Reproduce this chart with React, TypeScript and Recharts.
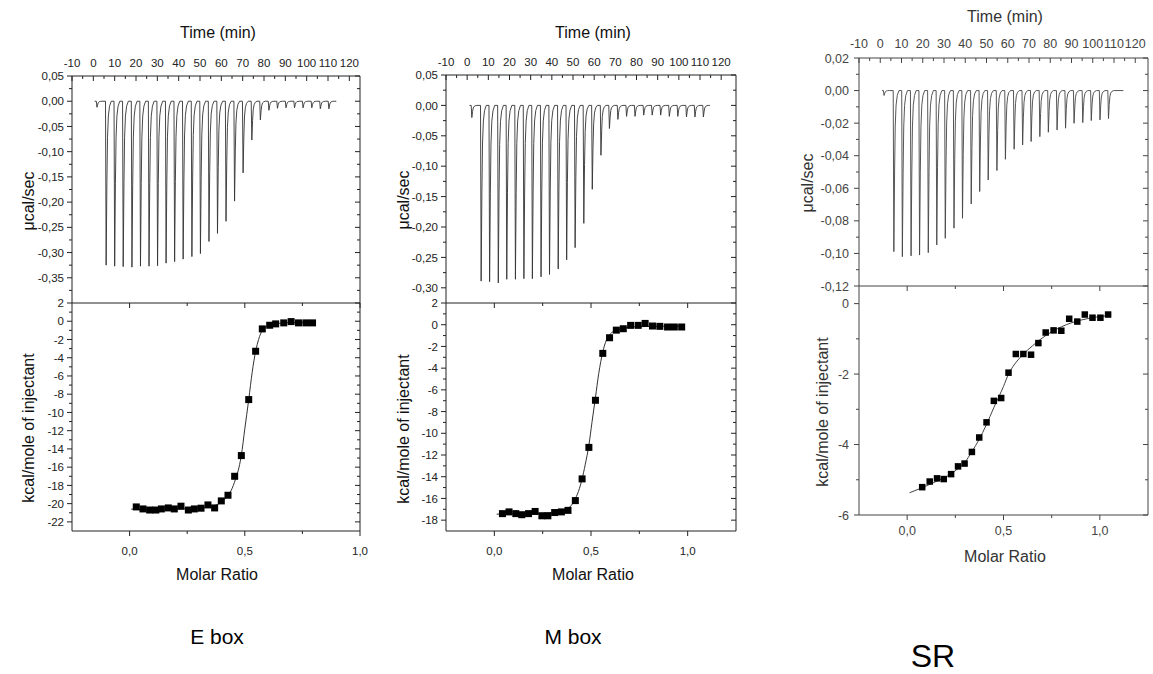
import React from 'react';
import { ComposedChart, Line, Scatter, XAxis, YAxis } from 'recharts';

const FONT = '"Liberation Sans", Arial, Helvetica, sans-serif';

// ---------- shared tick labels ----------
const TIME_MAJOR = [-10, 0, 10, 20, 30, 40, 50, 60, 70, 80, 90, 100, 110, 120];
const TIME_MINOR = [-5, 5, 15, 25, 35, 45, 55, 65, 75, 85, 95, 105, 115];
const RATIO_MAJOR = [0, 0.5, 1.0];
const RATIO_MINOR_A = [0.25, 0.75];
const RATIO_MINOR_B = [0.25, 0.75];

// shape of one injection peak (minutes after injection, fraction of peak depth)
const SPIKE_SHAPE: [number, number][] = [[0, 0], [0.3, 1], [0.65, 0.5], [0.95, 0.22], [1.35, 0.09], [1.9, 0.03], [2.7, 0]];

// ---------- E box ----------
const E_INJ_TIMES = [1.4, 5.7, 9.7, 13.7, 17.8, 21.8, 25.8, 29.8, 33.8, 37.8, 41.8, 45.9, 49.9, 53.9, 57.9, 61.9, 65.9, 69.9, 74.0, 78.0, 82.0, 86.0, 90.0, 94.0, 98.0, 102.1, 106.1, 110.1];
const E_INJ_PEAKS = [-0.012, -0.325, -0.327, -0.328, -0.329, -0.327, -0.327, -0.326, -0.321, -0.318, -0.313, -0.308, -0.302, -0.278, -0.262, -0.238, -0.198, -0.142, -0.077, -0.037, -0.018, -0.014, -0.013, -0.013, -0.013, -0.013, -0.015, -0.015];
const E_TRACE_START = 0.6;
const E_TRACE_END = 113.9;
const E_RATIO = [0.029, 0.058, 0.087, 0.114, 0.138, 0.168, 0.194, 0.223, 0.255, 0.281, 0.310, 0.340, 0.369, 0.398, 0.427, 0.456, 0.485, 0.517, 0.547, 0.576, 0.608, 0.634, 0.669, 0.701, 0.733, 0.765, 0.794];
const E_HEAT = [-20.36, -20.58, -20.7, -20.7, -20.58, -20.47, -20.58, -20.28, -20.7, -20.58, -20.5, -20.14, -20.47, -19.7, -19.08, -17.0, -14.73, -8.59, -3.29, -0.84, -0.44, -0.29, -0.18, -0.04, -0.18, -0.18, -0.18];
const E_FIT_RATIO = [0.007, 0.1, 0.2, 0.3, 0.37, 0.41, 0.44, 0.46, 0.475, 0.485, 0.5, 0.517, 0.532, 0.547, 0.56, 0.576, 0.6, 0.64, 0.7, 0.794];
const E_FIT_HEAT = [-20.6, -20.65, -20.6, -20.5, -20.2, -19.6, -18.6, -17.3, -16.0, -14.7, -11.8, -8.6, -5.6, -3.3, -2.0, -1.0, -0.5, -0.25, -0.15, -0.12];
const E_RAW_MAJOR = [0.05, 0, -0.05, -0.1, -0.15, -0.2, -0.25, -0.3, -0.35];
const E_RAW_MINOR = [0.025, -0.025, -0.075, -0.125, -0.175, -0.225, -0.275, -0.325, -0.375];
const E_HEAT_MAJOR = [2, 0, -2, -4, -6, -8, -10, -12, -14, -16, -18, -20, -22];
const E_HEAT_MINOR = [1, -1, -3, -5, -7, -9, -11, -13, -15, -17, -19, -21];

// ---------- M box ----------
const M_INJ_TIMES = [1.9, 6.3, 10.3, 14.4, 18.4, 22.5, 26.5, 30.5, 34.6, 38.6, 42.7, 46.7, 50.7, 54.8, 58.8, 62.9, 66.9, 70.9, 75.0, 79.0, 83.1, 87.1, 91.1, 95.2, 99.2, 103.3, 107.3, 111.3];
const M_INJ_PEAKS = [-0.02, -0.289, -0.290, -0.292, -0.286, -0.286, -0.285, -0.285, -0.282, -0.278, -0.269, -0.254, -0.234, -0.194, -0.138, -0.082, -0.038, -0.023, -0.018, -0.018, -0.016, -0.016, -0.016, -0.018, -0.018, -0.019, -0.019, -0.019];
const M_TRACE_START = 1.1;
const M_TRACE_END = 114.7;
const M_RATIO = [0.042, 0.076, 0.111, 0.142, 0.177, 0.211, 0.246, 0.277, 0.312, 0.347, 0.381, 0.419, 0.454, 0.489, 0.523, 0.561, 0.596, 0.631, 0.667, 0.705, 0.744, 0.780, 0.818, 0.856, 0.896, 0.931, 0.969];
const M_HEAT = [-17.4, -17.24, -17.4, -17.5, -17.4, -17.2, -17.6, -17.6, -17.3, -17.24, -17.1, -16.2, -14.2, -11.3, -6.96, -2.64, -1.2, -0.5, -0.37, -0.06, -0.06, 0.12, -0.12, -0.15, -0.21, -0.21, -0.21];
const M_FIT_RATIO = [0.012, 0.1, 0.2, 0.3, 0.36, 0.39, 0.42, 0.44, 0.454, 0.47, 0.489, 0.505, 0.523, 0.54, 0.561, 0.58, 0.6, 0.63, 0.67, 0.75, 0.969];
const M_FIT_HEAT = [-17.45, -17.4, -17.38, -17.3, -17.1, -16.8, -16.0, -15.1, -14.2, -12.9, -11.1, -9.0, -6.7, -4.5, -2.5, -1.4, -0.85, -0.5, -0.3, -0.18, -0.12];
const M_RAW_MAJOR = [0.05, 0, -0.05, -0.1, -0.15, -0.2, -0.25, -0.3];
const M_RAW_MINOR = [0.025, -0.025, -0.075, -0.125, -0.175, -0.225, -0.275];
const M_HEAT_MAJOR = [2, 0, -2, -4, -6, -8, -10, -12, -14, -16, -18];
const M_HEAT_MINOR = [1, -1, -3, -5, -7, -9, -11, -13, -15, -17];

// ---------- SR ----------
const S_INJ_TIMES = [1.5, 6.1, 10.1, 14.2, 18.2, 22.3, 26.3, 30.3, 34.4, 38.4, 42.5, 46.5, 50.5, 54.6, 58.6, 62.7, 66.7, 70.7, 74.8, 78.8, 82.9, 86.9, 90.9, 95.0, 99.0, 103.1, 107.1];
const S_INJ_PEAKS = [-0.003, -0.0989, -0.102, -0.1015, -0.101, -0.0995, -0.0948, -0.0907, -0.0845, -0.0784, -0.0696, -0.062, -0.0549, -0.0491, -0.0422, -0.036, -0.0334, -0.0313, -0.0283, -0.0256, -0.0242, -0.0231, -0.0201, -0.0197, -0.0184, -0.018, -0.0172];
const S_TRACE_START = 0.8;
const S_TRACE_END = 114.4;
const S_RATIO = [0.078, 0.117, 0.155, 0.19, 0.228, 0.264, 0.298, 0.336, 0.374, 0.412, 0.45, 0.488, 0.526, 0.564, 0.603, 0.643, 0.681, 0.719, 0.76, 0.80, 0.841, 0.883, 0.922, 0.962, 1.003, 1.043];
const S_HEAT = [-5.21, -5.05, -4.96, -4.98, -4.84, -4.62, -4.54, -4.21, -3.80, -3.37, -2.76, -2.68, -1.96, -1.43, -1.43, -1.45, -1.12, -0.82, -0.76, -0.77, -0.43, -0.51, -0.31, -0.40, -0.40, -0.31];
const S_FIT_RATIO = [0.012, 0.08, 0.15, 0.22, 0.26, 0.3, 0.336, 0.374, 0.41, 0.45, 0.5, 0.526, 0.55, 0.6, 0.65, 0.7, 0.75, 0.8, 0.85, 0.9, 0.95, 1.043];
const S_FIT_HEAT = [-5.37, -5.22, -5.05, -4.86, -4.7, -4.5, -4.2, -3.85, -3.45, -2.95, -2.35, -2.0, -1.78, -1.45, -1.2, -0.98, -0.8, -0.66, -0.55, -0.47, -0.41, -0.34];
const S_RAW_MAJOR = [0.02, 0, -0.02, -0.04, -0.06, -0.08, -0.1, -0.12];
const S_RAW_MINOR = [0.01, -0.01, -0.03, -0.05, -0.07, -0.09, -0.11];
const S_HEAT_MAJOR = [0, -2, -4, -6];
const S_HEAT_MINOR = [-1, -3, -5];

// ---------- helpers ----------
function buildTrace(start: number, end: number, times: number[], peaks: number[]) {
  const pts: { t: number; v: number }[] = [{ t: start, v: 0 }];
  times.forEach((t0, i) => {
    SPIKE_SHAPE.forEach(([dt, f]) => pts.push({ t: t0 + dt, v: peaks[i] * f }));
  });
  pts.push({ t: end, v: 0 });
  return pts;
}
function pairs(xs: number[], ys: number[]) {
  return xs.map((x, i) => ({ x, y: ys[i] }));
}
const comma = (d: number) => (v: number) => v.toFixed(d).replace('.', ',');
const intFmt = (v: number) => String(Math.round(v));

type Side = 'left' | 'right' | 'top' | 'bottom';
interface TickOpts {
  side: Side; major: number[]; fmt: (v: number) => string; inward: boolean;
  majorLen: number; minorLen: number; gap: number; fontSize: number; color: string; labels: boolean;
}
function makeTick(o: TickOpts) {
  return (props: any) => {
    const { x, y, payload } = props;
    const v = Number(payload.value);
    const isMajor = o.major.some((m) => Math.abs(m - v) < 1e-9);
    const len = isMajor ? o.majorLen : o.minorLen;
    const s = o.inward ? -1 : 1;
    let x2 = x, y2 = y, tx = x, ty = y;
    let anchor: 'start' | 'middle' | 'end' = 'middle';
    const outLen = o.inward ? 0 : o.majorLen;
    if (o.side === 'left') { x2 = x - s * len; tx = x - outLen - o.gap; anchor = 'end'; }
    if (o.side === 'right') { x2 = x + s * len; tx = x + outLen + o.gap; anchor = 'start'; }
    if (o.side === 'top') { y2 = y - s * len; ty = y - outLen - o.gap; }
    if (o.side === 'bottom') { y2 = y + s * len; ty = y + outLen + o.gap; }
    return (
      <g>
        <line x1={x} y1={y} x2={x2} y2={y2} stroke={o.color} strokeWidth={1} />
        {o.labels && isMajor ? (
          <text x={tx} y={ty} dy="0.36em" textAnchor={anchor} fontSize={o.fontSize} fill={o.color} fontFamily={FONT}>
            {o.fmt(v)}
          </text>
        ) : null}
      </g>
    );
  };
}

const Square = (size: number, color: string) => (p: any) =>
  p.cx == null ? <g /> : <rect x={p.cx - size / 2} y={p.cy - size / 2} width={size} height={size} fill={color} />;

interface PanelProps {
  plotLeft: number; plotRight: number; topY: number; midY: number; botY: number;
  timeDomain: [number, number]; rawDomain: [number, number]; heatDomain: [number, number]; ratioDomain: [number, number];
  rawMajor: number[]; rawMinor: number[]; rawFmt: (v: number) => string;
  heatMajor: number[]; heatMinor: number[];
  ratioMinor: number[];
  trace: { t: number; v: number }[];
  points: { x: number; y: number }[];
  fit: { x: number; y: number }[];
  color: string; traceColor: string; tickFont: number;
  leftGap: number; topGap: number; bottomGap: number; square: number;
}

function Panel(p: PanelProps) {
  const LW = 70, RM = 10;
  const PW = p.plotRight - p.plotLeft;
  const PHt = p.midY - p.topY;
  const PHb = p.botY - p.midY;
  const W = LW + PW + RM;
  const TH = 40;
  const TB = 12; // bottom margin of the upper chart (room for its lowest label)
  const topH = TH + PHt + TB;
  const BT = 12; // top room of the lower chart (room for its highest label)
  const BH = 40;
  const botH = BT + PHb + BH;
  const c = p.color;
  const common = { majorLen: 5, minorLen: 3, fontSize: p.tickFont, color: c };
  const rawTicks = [...p.rawMajor, ...p.rawMinor].sort((a, b) => b - a);
  const heatTicks = [...p.heatMajor, ...p.heatMinor].sort((a, b) => b - a);
  const timeTicks = [...TIME_MAJOR, ...TIME_MINOR].sort((a, b) => a - b);
  const ratioTicks = [...RATIO_MAJOR, ...p.ratioMinor].filter((v) => v <= p.ratioDomain[1]).sort((a, b) => a - b);
  return (
    <>
      <div style={{ position: 'absolute', left: p.plotLeft - LW, top: p.topY - TH, width: W, height: topH }}>
        <ComposedChart width={W} height={topH} margin={{ top: 0, left: 0, right: RM - 1, bottom: TB }}>
          <XAxis xAxisId="t" orientation="top" type="number" dataKey="t" domain={p.timeDomain} allowDataOverflow
            ticks={timeTicks} interval={0} height={TH} tickSize={0} tickMargin={0} tickLine={false}
            axisLine={{ stroke: c }}
            tick={makeTick({ ...common, side: 'top', major: TIME_MAJOR, fmt: intFmt, inward: true, gap: p.topGap, labels: true })} />
          <YAxis yAxisId="l" type="number" dataKey="v" domain={p.rawDomain} allowDataOverflow ticks={rawTicks} interval={0}
            width={LW} tickSize={0} tickMargin={0} tickLine={false} axisLine={{ stroke: c }}
            tick={makeTick({ ...common, side: 'left', major: p.rawMajor, fmt: p.rawFmt, inward: false, gap: p.leftGap, labels: true })} />
          <YAxis yAxisId="r" orientation="right" type="number" domain={p.rawDomain} allowDataOverflow ticks={rawTicks} interval={0}
            width={1} tickSize={0} tickMargin={0} tickLine={false} axisLine={{ stroke: c }}
            tick={makeTick({ ...common, side: 'right', major: p.rawMajor, fmt: p.rawFmt, inward: true, gap: 2, labels: false })} />
          <Line data={p.trace} xAxisId="t" yAxisId="l" dataKey="v" type="linear" dot={false} stroke={p.traceColor}
            strokeWidth={0.9} isAnimationActive={false} />
        </ComposedChart>
      </div>
      <div style={{ position: 'absolute', left: p.plotLeft - LW, top: p.midY - BT, width: W, height: botH }}>
        <ComposedChart width={W} height={botH} margin={{ top: BT - 1, left: 0, right: RM - 1, bottom: 0 }}>
          <XAxis xAxisId="xt" orientation="top" type="number" dataKey="x" domain={p.ratioDomain} allowDataOverflow
            ticks={ratioTicks} interval={0} height={1} tickSize={0} tickMargin={0} tickLine={false}
            axisLine={{ stroke: c }}
            tick={makeTick({ ...common, side: 'top', major: RATIO_MAJOR, fmt: comma(1), inward: true, gap: 2, labels: false })} />
          <XAxis xAxisId="xb" orientation="bottom" type="number" dataKey="x" domain={p.ratioDomain} allowDataOverflow
            ticks={ratioTicks} interval={0} height={BH} tickSize={0} tickMargin={0} tickLine={false}
            axisLine={{ stroke: c }}
            tick={makeTick({ ...common, side: 'bottom', major: RATIO_MAJOR, fmt: comma(1), inward: p.bottomGap < 10, gap: p.bottomGap, labels: true })} />
          <YAxis yAxisId="l" type="number" dataKey="y" domain={p.heatDomain} allowDataOverflow ticks={heatTicks} interval={0}
            width={LW} tickSize={0} tickMargin={0} tickLine={false} axisLine={{ stroke: c }}
            tick={makeTick({ ...common, side: 'left', major: p.heatMajor, fmt: intFmt, inward: false, gap: p.leftGap, labels: true })} />
          <YAxis yAxisId="r" orientation="right" type="number" domain={p.heatDomain} allowDataOverflow ticks={heatTicks} interval={0}
            width={1} tickSize={0} tickMargin={0} tickLine={false} axisLine={{ stroke: c }}
            tick={makeTick({ ...common, side: 'right', major: p.heatMajor, fmt: intFmt, inward: true, gap: 2, labels: false })} />
          <Line data={p.fit} xAxisId="xb" yAxisId="l" dataKey="y" type="monotone" dot={false} stroke={p.traceColor}
            strokeWidth={1} isAnimationActive={false} />
          <Scatter data={p.points} xAxisId="xb" yAxisId="l" dataKey="y" shape={Square(p.square, '#000')} isAnimationActive={false} />
        </ComposedChart>
      </div>
    </>
  );
}

const E_TRACE = buildTrace(E_TRACE_START, E_TRACE_END, E_INJ_TIMES, E_INJ_PEAKS);
const M_TRACE = buildTrace(M_TRACE_START, M_TRACE_END, M_INJ_TIMES, M_INJ_PEAKS);
const S_TRACE = buildTrace(S_TRACE_START, S_TRACE_END, S_INJ_TIMES, S_INJ_PEAKS);

export default function App() {
  const t1 = '#111';
  const t3 = '#333';
  return (
    <div style={{ position: 'absolute', left: 0, top: 0, width: 1153, height: 674, background: '#fff', fontFamily: FONT }}>
      <Panel plotLeft={72} plotRight={360} topY={76} midY={303} botY={531}
        timeDomain={[-10, 125]} rawDomain={[-0.4, 0.05]} heatDomain={[-23, 2]} ratioDomain={[-0.25, 1.0]}
        rawMajor={E_RAW_MAJOR} rawMinor={E_RAW_MINOR} rawFmt={comma(2)}
        heatMajor={E_HEAT_MAJOR} heatMinor={E_HEAT_MINOR} ratioMinor={RATIO_MINOR_A}
        trace={E_TRACE} points={pairs(E_RATIO, E_HEAT)} fit={pairs(E_FIT_RATIO, E_FIT_HEAT)}
        color="#222" traceColor="#333" tickFont={11.5} leftGap={3} topGap={13} bottomGap={15} square={7} />
      <Panel plotLeft={446} plotRight={736} topY={75} midY={303} botY={531}
        timeDomain={[-10, 127]} rawDomain={[-0.325, 0.05]} heatDomain={[-19, 2]} ratioDomain={[-0.25, 1.25]}
        rawMajor={M_RAW_MAJOR} rawMinor={M_RAW_MINOR} rawFmt={comma(2)}
        heatMajor={M_HEAT_MAJOR} heatMinor={M_HEAT_MINOR} ratioMinor={RATIO_MINOR_B}
        trace={M_TRACE} points={pairs(M_RATIO, M_HEAT)} fit={pairs(M_FIT_RATIO, M_FIT_HEAT)}
        color="#222" traceColor="#333" tickFont={11.5} leftGap={3} topGap={13} bottomGap={15} square={7} />
      <Panel plotLeft={859} plotRight={1148} topY={58} midY={286} botY={515}
        timeDomain={[-10, 126]} rawDomain={[-0.12, 0.02]} heatDomain={[-6, 0.5]} ratioDomain={[-0.25, 1.25]}
        rawMajor={S_RAW_MAJOR} rawMinor={S_RAW_MINOR} rawFmt={comma(2)}
        heatMajor={S_HEAT_MAJOR} heatMinor={S_HEAT_MINOR} ratioMinor={RATIO_MINOR_B}
        trace={S_TRACE} points={pairs(S_RATIO, S_HEAT)} fit={pairs(S_FIT_RATIO, S_FIT_HEAT)}
        color="#444" traceColor="#444" tickFont={12.5} leftGap={5} topGap={15} bottomGap={10} square={6.5} />
      <svg width={1153} height={674} style={{ position: 'absolute', left: 0, top: 0, pointerEvents: 'none' }} fontFamily={FONT}>
        <g fill={t1} fontSize={16}>
          <text x={218} y={32} textAnchor="middle" dy="0.36em">Time (min)</text>
          <text transform="translate(28,201) rotate(-90)" textAnchor="middle" dy="0.36em">μcal/sec</text>
          <text transform="translate(28,428) rotate(-90)" textAnchor="middle" dy="0.36em">kcal/mole of injectant</text>
          <text x={217} y={574} textAnchor="middle" dy="0.36em">Molar Ratio</text>
          <text x={593} y={32} textAnchor="middle" dy="0.36em">Time (min)</text>
          <text transform="translate(403,200) rotate(-90)" textAnchor="middle" dy="0.36em">μcal/sec</text>
          <text transform="translate(403,429) rotate(-90)" textAnchor="middle" dy="0.36em">kcal/mole of injectant</text>
          <text x={593} y={574} textAnchor="middle" dy="0.36em">Molar Ratio</text>
        </g>
        <g fill={t3} fontSize={16}>
          <text x={1005} y={16} textAnchor="middle" dy="0.36em">Time (min)</text>
          <text transform="translate(807,183) rotate(-90)" textAnchor="middle" dy="0.36em">μcal/sec</text>
          <text transform="translate(822,412) rotate(-90)" textAnchor="middle" dy="0.36em">kcal/mole of injectant</text>
          <text x={1005} y={556} textAnchor="middle" dy="0.36em">Molar Ratio</text>
        </g>
        <g fill="#000">
          <text x={217} y={636} textAnchor="middle" dy="0.36em" fontSize={21}>E box</text>
          <text x={573} y={636} textAnchor="middle" dy="0.36em" fontSize={21}>M box</text>
          <text x={933} y={655} textAnchor="middle" dy="0.36em" fontSize={32}>SR</text>
        </g>
      </svg>
    </div>
  );
}
